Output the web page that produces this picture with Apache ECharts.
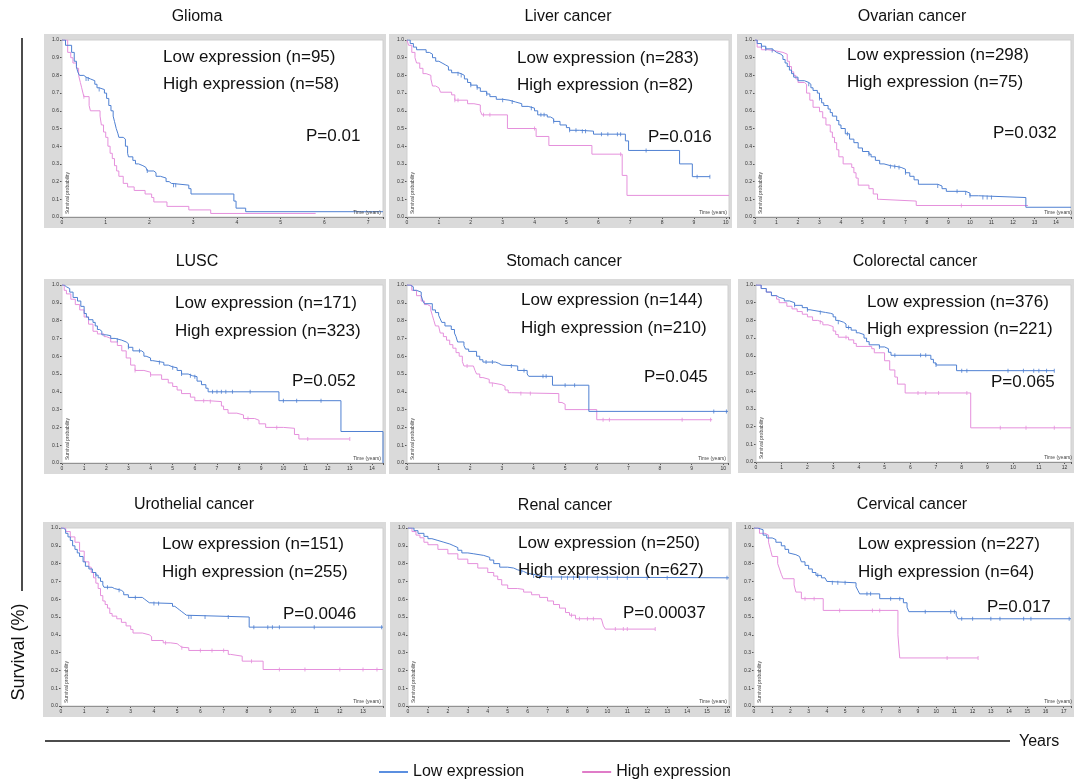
<!DOCTYPE html>
<html><head><meta charset="utf-8">
<script src="https://cdn.jsdelivr.net/npm/echarts@6/dist/echarts.min.js"></script>
<style>html,body{margin:0;padding:0;background:#fff}#c{width:1074px;height:781px}</style>
</head><body><div id="c"></div><script>
// ---------- DATA ----------
const panelNames = ["Glioma","Liver cancer","Ovarian cancer","LUSC","Stomach cancer","Colorectal cancer","Urothelial cancer","Renal cancer","Cervical cancer"];
const lowN  = [95,283,298,171,144,376,151,250,227];
const highN = [58,82,75,323,210,221,255,627,64];
const pValues = ["0.01","0.016","0.032","0.052","0.045","0.065","0.0046","0.00037","0.017"];
const xMax = [7.34,10.1,14.7,14.5,10.15,12.25,13.86,16.1,17.4];
const yTicks = [0,0.1,0.2,0.3,0.4,0.5,0.6,0.7,0.8,0.9,1.0];

const gliomaLow = [[0,1],[0.08,0.97],[0.22,0.93],[0.28,0.88],[0.33,0.85],[0.36,0.82],[0.4,0.8],[0.5,0.79],[0.55,0.78],[0.65,0.77],[0.75,0.75],[0.8,0.73],[0.85,0.72],[0.97,0.7],[1.02,0.67],[1.07,0.63],[1.12,0.6],[1.17,0.57],[1.2,0.54],[1.24,0.5],[1.28,0.47],[1.3,0.45],[1.4,0.44],[1.45,0.4],[1.5,0.36],[1.52,0.34],[1.62,0.32],[1.68,0.3],[1.75,0.29],[1.85,0.28],[1.92,0.27],[1.95,0.26],[2.1,0.25],[2.15,0.23],[2.25,0.22],[2.38,0.2],[2.45,0.19],[2.5,0.18],[2.9,0.16],[2.95,0.13],[3.93,0.09],[3.98,0.05],[4.2,0.03],[7.34,0.03]];
const gliomaHigh = [[0,1],[0.13,0.93],[0.2,0.9],[0.25,0.87],[0.33,0.84],[0.38,0.8],[0.42,0.76],[0.45,0.73],[0.48,0.7],[0.5,0.68],[0.62,0.63],[0.65,0.6],[0.87,0.57],[0.9,0.52],[0.95,0.48],[1.0,0.45],[1.05,0.4],[1.1,0.36],[1.15,0.33],[1.2,0.29],[1.25,0.26],[1.3,0.23],[1.4,0.19],[1.5,0.17],[1.65,0.15],[1.9,0.13],[2.05,0.11],[2.1,0.085],[2.4,0.06],[2.9,0.04],[3.4,0.02],[5.8,0.02]];
const liverLow = [[0,1],[0.1,0.98],[0.2,0.96],[0.3,0.945],[0.6,0.93],[0.7,0.92],[0.8,0.9],[0.9,0.88],[1.0,0.87],[1.1,0.86],[1.2,0.85],[1.3,0.83],[1.4,0.815],[1.6,0.81],[1.7,0.8],[1.8,0.78],[1.9,0.76],[2.0,0.745],[2.2,0.73],[2.3,0.71],[2.5,0.695],[2.6,0.68],[2.8,0.665],[3.0,0.66],[3.2,0.65],[3.4,0.64],[3.6,0.625],[3.8,0.615],[4.0,0.6],[4.1,0.577],[4.4,0.565],[4.5,0.555],[4.6,0.54],[4.8,0.52],[5.0,0.505],[5.1,0.49],[5.4,0.485],[5.85,0.468],[6.85,0.43],[6.95,0.376],[8.55,0.3],[8.95,0.228],[9.5,0.228]];
const liverHigh = [[0,1],[0.05,0.97],[0.15,0.93],[0.25,0.9],[0.3,0.87],[0.4,0.84],[0.5,0.81],[0.6,0.8],[0.75,0.78],[0.8,0.74],[0.9,0.73],[1.0,0.72],[1.05,0.705],[1.4,0.69],[1.5,0.66],[1.9,0.64],[2.1,0.633],[2.3,0.6],[2.35,0.577],[3.15,0.5],[4.05,0.455],[4.45,0.404],[5.8,0.355],[6.75,0.235],[6.9,0.122],[10.1,0.122]];
const ovarianLow = [[0,1],[0.1,0.98],[0.3,0.965],[0.5,0.95],[0.8,0.94],[0.9,0.93],[1.0,0.92],[1.2,0.91],[1.3,0.89],[1.4,0.87],[1.5,0.85],[1.6,0.83],[1.7,0.81],[1.8,0.79],[2.0,0.77],[2.3,0.76],[2.5,0.75],[2.6,0.73],[2.7,0.715],[2.9,0.7],[3.0,0.67],[3.1,0.645],[3.2,0.63],[3.4,0.61],[3.5,0.59],[3.6,0.57],[3.8,0.545],[3.9,0.52],[4.0,0.5],[4.2,0.47],[4.4,0.44],[4.6,0.42],[4.8,0.39],[5.0,0.37],[5.3,0.355],[5.4,0.34],[5.6,0.32],[5.8,0.3],[6.0,0.29],[6.3,0.285],[6.6,0.28],[6.8,0.27],[7.0,0.25],[7.2,0.23],[7.4,0.21],[7.6,0.185],[8.5,0.175],[8.7,0.16],[8.9,0.145],[9.8,0.135],[10.0,0.12],[10.4,0.11],[12.6,0.055],[14.7,0.055]];
const ovarianHigh = [[0,1],[0.1,0.96],[0.3,0.945],[0.6,0.94],[0.9,0.93],[1.3,0.92],[1.5,0.88],[1.6,0.85],[1.7,0.82],[1.8,0.8],[1.9,0.78],[2.0,0.76],[2.3,0.75],[2.4,0.7],[2.55,0.66],[2.7,0.62],[3.0,0.595],[3.15,0.56],[3.3,0.52],[3.5,0.48],[3.6,0.45],[3.7,0.42],[3.8,0.38],[3.9,0.34],[4.1,0.3],[4.5,0.28],[4.6,0.25],[4.7,0.22],[4.8,0.18],[5.3,0.16],[5.5,0.13],[5.7,0.1],[5.8,0.09],[7.5,0.065],[12.7,0.065]];
const luscLow = [[0,1],[0.1,0.99],[0.2,0.98],[0.35,0.96],[0.5,0.93],[0.7,0.91],[0.85,0.88],[1.0,0.84],[1.1,0.82],[1.2,0.805],[1.4,0.79],[1.5,0.77],[1.6,0.75],[1.7,0.74],[1.8,0.72],[2.0,0.715],[2.2,0.7],[2.4,0.69],[2.7,0.68],[2.9,0.67],[3.0,0.65],[3.2,0.63],[3.6,0.62],[3.7,0.6],[3.8,0.59],[4.0,0.575],[4.1,0.565],[4.6,0.55],[4.8,0.54],[5.0,0.535],[5.2,0.52],[5.4,0.5],[5.7,0.49],[5.9,0.485],[6.1,0.46],[6.3,0.44],[6.5,0.42],[6.6,0.4],[9.8,0.35],[12.6,0.177],[14.5,0]];
const luscHigh = [[0,1],[0.1,0.97],[0.2,0.95],[0.4,0.92],[0.6,0.89],[0.8,0.86],[1.0,0.82],[1.2,0.78],[1.4,0.74],[1.6,0.725],[1.9,0.71],[2.0,0.7],[2.2,0.68],[2.5,0.66],[2.7,0.63],[2.9,0.59],[3.1,0.55],[3.3,0.52],[3.7,0.51],[4.0,0.495],[4.5,0.47],[4.8,0.45],[5.0,0.43],[5.2,0.41],[5.4,0.39],[5.8,0.37],[6.0,0.35],[6.6,0.345],[7.2,0.32],[7.3,0.3],[7.5,0.28],[7.9,0.27],[8.2,0.25],[8.7,0.24],[8.9,0.22],[9.2,0.2],[10.0,0.195],[10.5,0.16],[10.7,0.135],[13.0,0.135]];
const stomachLow = [[0,1],[0.1,0.99],[0.2,0.97],[0.3,0.96],[0.45,0.94],[0.5,0.91],[0.55,0.895],[0.8,0.86],[0.9,0.845],[1.0,0.83],[1.05,0.81],[1.1,0.79],[1.2,0.77],[1.4,0.75],[1.5,0.73],[1.55,0.71],[1.6,0.68],[1.8,0.66],[1.85,0.64],[1.95,0.627],[2.2,0.6],[2.3,0.58],[2.4,0.567],[2.8,0.56],[2.9,0.55],[3.0,0.545],[3.5,0.52],[3.8,0.5],[3.85,0.487],[4.6,0.437],[5.75,0.29],[10.15,0.29]];
const stomachHigh = [[0,1],[0.15,0.97],[0.3,0.94],[0.45,0.91],[0.55,0.89],[0.65,0.88],[0.75,0.86],[0.8,0.83],[0.85,0.8],[0.9,0.77],[1.0,0.76],[1.05,0.73],[1.15,0.71],[1.25,0.69],[1.35,0.665],[1.45,0.645],[1.55,0.62],[1.65,0.6],[1.75,0.57],[1.8,0.545],[2.1,0.54],[2.15,0.52],[2.2,0.5],[2.3,0.48],[2.4,0.47],[2.6,0.45],[2.7,0.44],[3.0,0.43],[3.1,0.41],[3.2,0.395],[3.3,0.39],[4.8,0.34],[4.9,0.33],[5.0,0.3],[6.0,0.243],[9.65,0.243]];
const colorectalLow = [[0,1],[0.2,0.98],[0.4,0.96],[0.6,0.94],[0.8,0.93],[0.9,0.922],[1.1,0.91],[1.3,0.9],[1.5,0.885],[1.8,0.872],[2.0,0.86],[2.1,0.85],[2.5,0.845],[2.7,0.84],[2.9,0.835],[3.0,0.82],[3.1,0.8],[3.2,0.79],[3.4,0.78],[3.5,0.76],[3.7,0.745],[3.9,0.73],[4.0,0.72],[4.2,0.7],[4.3,0.68],[4.4,0.662],[4.8,0.65],[5.0,0.64],[5.15,0.62],[5.25,0.603],[6.8,0.58],[6.9,0.56],[7.0,0.548],[7.8,0.516],[11.6,0.516]];
const colorectalHigh = [[0,1],[0.2,0.98],[0.4,0.96],[0.6,0.94],[0.8,0.92],[0.9,0.9],[1.2,0.88],[1.4,0.865],[1.6,0.85],[1.8,0.835],[2.0,0.82],[2.2,0.8],[2.4,0.79],[2.6,0.775],[2.8,0.765],[3.0,0.74],[3.1,0.72],[3.2,0.705],[3.6,0.69],[3.8,0.67],[3.9,0.653],[4.5,0.64],[4.6,0.617],[5.0,0.572],[5.2,0.52],[5.4,0.48],[5.5,0.44],[5.8,0.39],[8.35,0.193],[12.25,0.193]];
const urothelialLow = [[0,1],[0.1,0.99],[0.2,0.97],[0.3,0.95],[0.4,0.93],[0.5,0.9],[0.6,0.88],[0.7,0.86],[0.8,0.84],[0.95,0.81],[1.05,0.785],[1.2,0.77],[1.35,0.75],[1.5,0.735],[1.6,0.72],[1.7,0.7],[1.8,0.68],[1.85,0.667],[2.2,0.66],[2.3,0.65],[2.6,0.64],[2.7,0.625],[2.9,0.61],[3.5,0.6],[3.6,0.59],[3.7,0.58],[3.8,0.576],[4.8,0.56],[4.9,0.55],[5.0,0.54],[5.1,0.53],[5.2,0.52],[5.3,0.51],[5.4,0.5],[8.1,0.443],[13.86,0.443]];
const urothelialHigh = [[0,1],[0.2,0.98],[0.4,0.95],[0.6,0.92],[0.8,0.87],[1.0,0.81],[1.2,0.78],[1.3,0.75],[1.4,0.72],[1.5,0.69],[1.6,0.66],[1.7,0.62],[1.8,0.59],[1.9,0.57],[2.0,0.55],[2.1,0.52],[2.2,0.505],[2.4,0.49],[2.6,0.47],[2.8,0.45],[3.0,0.43],[3.1,0.41],[3.5,0.4],[3.8,0.39],[3.9,0.368],[4.4,0.355],[4.7,0.35],[5.0,0.34],[5.1,0.33],[5.2,0.327],[5.5,0.312],[7.2,0.29],[7.3,0.28],[7.8,0.252],[8.7,0.205],[13.86,0.205]];
const renalLow = [[0,1],[0.3,0.985],[0.5,0.97],[0.8,0.953],[1.0,0.94],[1.2,0.93],[1.5,0.92],[1.8,0.91],[2.1,0.9],[2.3,0.89],[2.5,0.875],[2.7,0.86],[3.0,0.855],[3.3,0.846],[3.8,0.835],[4.1,0.82],[4.3,0.8],[4.6,0.78],[5.0,0.775],[5.3,0.765],[5.5,0.756],[5.8,0.745],[6.0,0.74],[6.3,0.73],[6.6,0.725],[7.0,0.72],[16.1,0.72]];
const renalHigh = [[0,1],[0.2,0.98],[0.4,0.96],[0.6,0.945],[0.8,0.92],[1.0,0.906],[1.5,0.88],[2.0,0.855],[2.5,0.825],[3.0,0.8],[3.5,0.775],[4.0,0.75],[4.3,0.73],[4.5,0.71],[4.7,0.68],[5.0,0.66],[5.5,0.655],[5.8,0.64],[6.2,0.625],[6.6,0.61],[7.0,0.59],[7.3,0.57],[7.6,0.55],[7.9,0.525],[8.1,0.51],[8.4,0.49],[9.7,0.48],[9.8,0.45],[9.9,0.432],[12.4,0.432]];
const cervicalLow = [[0,1],[0.2,0.99],[0.5,0.96],[0.7,0.944],[1.0,0.935],[1.2,0.92],[1.5,0.9],[1.7,0.88],[1.9,0.86],[2.0,0.85],[2.3,0.84],[2.5,0.83],[2.6,0.81],[2.8,0.79],[3.0,0.77],[3.2,0.75],[3.4,0.734],[3.7,0.72],[3.9,0.71],[4.0,0.7],[4.1,0.692],[5.6,0.67],[5.7,0.65],[5.8,0.63],[6.9,0.603],[8.2,0.58],[8.4,0.555],[8.5,0.53],[11.1,0.51],[11.2,0.49],[17.4,0.49]];
const cervicalHigh = [[0,1],[0.3,0.97],[0.6,0.96],[0.8,0.92],[0.9,0.88],[1.0,0.84],[1.3,0.8],[1.4,0.77],[1.5,0.74],[1.6,0.715],[2.2,0.68],[2.3,0.64],[2.6,0.603],[3.8,0.537],[7.9,0.4],[8.0,0.27],[12.3,0.27]];

// censoring times (years)
const censorLow = [
 [0.55,0.6,0.85,1.95,2.55,2.6],
 [1.6,1.7,2.0,2.2,2.5,3.0,3.3,3.9,4.2,4.3,4.6,5.1,5.3,5.5,5.6,6.1,6.3,6.6,6.7,7.5,9.1,9.5],
 [0.3,0.5,0.8,2.5,3.0,4.3,5.3,6.3,6.5,6.7,7.0,8.5,9.4,9.8,10.0,10.6,10.8,11.0],
 [2.5,3.0,3.5,4.4,5.0,5.4,5.8,6.0,6.8,7.0,7.2,7.4,7.7,8.5,10.0,10.6,11.7],
 [2.5,2.7,3.3,3.7,4.3,4.4,5.0,5.3,9.7,10.1],
 [1.5,2.0,2.5,3.2,3.6,4.8,5.4,6.4,6.6,7.0,8.0,8.2,9.8,10.4,10.8,11.0,11.3,11.6],
 [1.5,2.0,2.5,3.2,4.0,4.2,5.5,5.6,6.2,7.2,8.3,8.9,9.1,9.4,10.9,13.8],
 [5.7,6.3,6.6,7.2,7.7,8.0,8.3,8.6,9.0,9.5,10.0,10.5,11.0,12.0,13.0,16.0],
 [3.5,4.3,4.6,5.0,6.2,6.4,7.5,8.0,9.4,10.8,11.0,11.4,12.0,13.0,13.5,14.8,15.2,17.3]
];
const censorHigh = [
 [0.5],
 [1.5,1.6,2.4,2.6,4.0,6.7],
 [9.6],
 [3.3,4.0,6.4,6.7,8.4,9.7,11.1,13.0],
 [1.9,2.7,3.6,3.9,6.2,6.4,8.7,9.6],
 [2.5,3.5,6.3,6.6,7.1,8.2,9.5,10.5,11.6],
 [4.5,5.2,6.0,6.5,7.0,8.2,9.4,10.5,12.0,13.0,13.6],
 [8.2,8.6,9.0,9.3,10.4,10.8,11.0,12.4],
 [2.8,3.3,4.7,6.5,6.9,10.6,12.3]
];
const lowCurves = [gliomaLow,liverLow,ovarianLow,luscLow,stomachLow,colorectalLow,urothelialLow,renalLow,cervicalLow];
const highCurves = [gliomaHigh,liverHigh,ovarianHigh,luscHigh,stomachHigh,colorectalHigh,urothelialHigh,renalHigh,cervicalHigh];
const legendNames = ["Low expression","High expression"];

// ---------- LAYOUT (pixels) ----------
const gridPos = [
 [62,40,321,177],[407,40,322,177],[755,40,319,177],
 [62,285,321,178],[407,285,321,178],[756,285,318,177],
 [61,528,322,178],[408,528,321,178],[754,528,320,178]];
const titlePos = [[197,17],[568,17],[912,17],[197,262],[564,262],[915,262],[194,505],[565,506],[912,505]];
const annotPos = [[163,57,84,306,136],[517,58,85,648,137],[847,55,82,993,133],[175,303,331,292,381],[521,300,328,644,377],[867,302,329,991,382],[162,544,572,283,614],[518,543,570,623,613],[858,544,572,987,607]];

const BLUE = '#4f80d2', PINK = '#e590dc';
const FONT = 'Liberation Sans, Arial, Helvetica, sans-serif';

function survAt(curve, t){ let y = curve[0][1]; for (const p of curve){ if (p[0] <= t) y = p[1]; else break; } return y; }

const grids = [], xAxes = [], yAxes = [], series = [], graphics = [];
gridPos.forEach((g, i) => {
  const [l, t, w, h] = g;
  grids.push({left:l, top:t, width:w, height:h, show:true, backgroundColor:'#fff', borderColor:'#cfcfcf', borderWidth:1, z:2});
  const fw = Math.min(w + 21, 1074 - (l - 18));
  graphics.push({type:'rect', shape:{x:l-18, y:t-6, width:fw, height:h+17}, style:{fill:'#dadada'}, z:-10, silent:true});
  xAxes.push({gridIndex:i, type:'value', min:0, max:xMax[i], interval:1,
    axisLine:{show:true, onZero:false, lineStyle:{color:'#555', width:1}},
    axisTick:{show:true, length:2, lineStyle:{color:'#555'}},
    axisLabel:{fontSize:5, color:'#333', margin:3, fontFamily:FONT, formatter: v => (Math.abs(v-Math.round(v))<1e-6 ? String(Math.round(v)) : '')},
    splitLine:{show:false}});
  yAxes.push({gridIndex:i, type:'value', min:0, max:1, interval:0.1,
    axisLine:{show:true, lineStyle:{color:'#8a6a9a', width:1}},
    axisTick:{show:true, length:2, lineStyle:{color:'#555'}},
    axisLabel:{fontSize:5, color:'#333', margin:3, fontFamily:FONT, formatter: v => v.toFixed(1)},
    splitLine:{show:false}});
  series.push({name:legendNames[1], type:'line', step:'end', xAxisIndex:i, yAxisIndex:i, data:highCurves[i], showSymbol:false, symbol:'none',
    lineStyle:{color:PINK, width:1}, itemStyle:{color:PINK}, silent:true, animation:false, z:3});
  series.push({name:legendNames[0], type:'line', step:'end', xAxisIndex:i, yAxisIndex:i, data:lowCurves[i], showSymbol:false, symbol:'none',
    lineStyle:{color:BLUE, width:1}, itemStyle:{color:BLUE}, silent:true, animation:false, z:4});
  series.push({name:'high censored', type:'scatter', xAxisIndex:i, yAxisIndex:i, symbol:'rect', symbolSize:[1,4],
    data:censorHigh[i].map(c => [c, survAt(highCurves[i], c)]), itemStyle:{color:PINK}, silent:true, animation:false, z:3});
  series.push({name:'low censored', type:'scatter', xAxisIndex:i, yAxisIndex:i, symbol:'rect', symbolSize:[1,4],
    data:censorLow[i].map(c => [c, survAt(lowCurves[i], c)]), itemStyle:{color:BLUE}, silent:true, animation:false, z:4});
  graphics.push({type:'text', x:l+6, y:t+h-3, rotation:Math.PI/2, style:{text:'Survival probability', fontSize:5, fill:'#444', fontFamily:FONT, align:'left', verticalAlign:'middle'}, z:20, silent:true});
  graphics.push({type:'text', x:l+w-2, y:t+h-2, style:{text:'Time (years)', fontSize:5, fill:'#444', fontFamily:FONT, align:'right', verticalAlign:'bottom'}, z:20, silent:true});
  graphics.push({type:'text', x:titlePos[i][0], y:titlePos[i][1], style:{text:panelNames[i], fontSize:16, fill:'#111', fontFamily:FONT, align:'center', verticalAlign:'middle'}, z:20, silent:true});
  const a = annotPos[i];
  graphics.push({type:'text', x:a[0], y:a[1], style:{text:'Low expression (n=' + lowN[i] + ')', fontSize:17, fill:'#111', fontFamily:FONT, align:'left', verticalAlign:'middle'}, z:20, silent:true});
  graphics.push({type:'text', x:a[0], y:a[2], style:{text:'High expression (n=' + highN[i] + ')', fontSize:17, fill:'#111', fontFamily:FONT, align:'left', verticalAlign:'middle'}, z:20, silent:true});
  graphics.push({type:'text', x:a[3], y:a[4], style:{text:'P=' + pValues[i], fontSize:17, fill:'#111', fontFamily:FONT, align:'left', verticalAlign:'middle'}, z:20, silent:true});
});

graphics.push({type:'line', shape:{x1:22, y1:38, x2:22, y2:591}, style:{stroke:'#111', lineWidth:1.5}, z:20, silent:true});
graphics.push({type:'text', x:19, y:652, rotation:Math.PI/2, style:{text:'Survival (%)', fontSize:18, fill:'#111', fontFamily:FONT, align:'center', verticalAlign:'middle'}, z:20, silent:true});
graphics.push({type:'line', shape:{x1:45, y1:741, x2:1010, y2:741}, style:{stroke:'#111', lineWidth:1.5}, z:20, silent:true});
graphics.push({type:'text', x:1019, y:742, style:{text:'Years', fontSize:16, fill:'#111', fontFamily:FONT, align:'left', verticalAlign:'middle'}, z:20, silent:true});

const chart = echarts.init(document.getElementById('c'), null, {renderer:'canvas'});
chart.setOption({
  animation:false,
  backgroundColor:'#fff',
  legend:{data:legendNames.map((n, k) => ({name:n, icon:'rect', itemStyle:{color: k === 0 ? '#5b8fe0' : '#e07cc8'}})),
    left:374, top:759, itemWidth:29, itemHeight:2, itemGap:58,
    textStyle:{fontSize:16, color:'#111', fontFamily:FONT}, selectedMode:false},
  grid:grids, xAxis:xAxes, yAxis:yAxes, series:series, graphic:graphics
});
</script></body></html>
